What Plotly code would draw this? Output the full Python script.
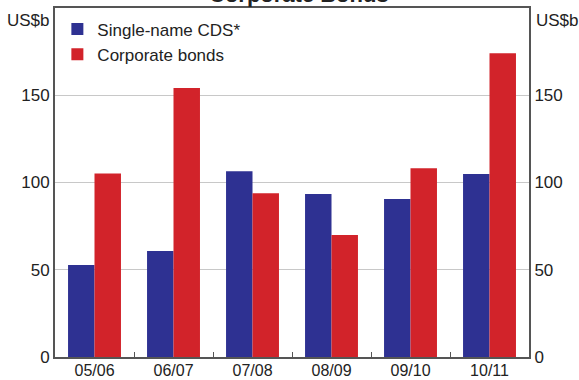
import plotly.graph_objects as go

# Financial years
years = ["05/06", "06/07", "07/08", "08/09", "09/10", "10/11"]

# Issuance, US$ billion
cds_values = [52.7, 60.7, 106.5, 93.4, 90.5, 104.8]
bond_values = [105.2, 154.1, 93.9, 69.9, 108.2, 174.1]

y_ticks = [0, 50, 100, 150]

BLUE = "#2E3192"
RED = "#D2232A"
AXIS = "#555555"
FONT = "Liberation Sans, Arial, sans-serif"

fig = go.Figure()
fig.add_trace(go.Bar(x=years, y=cds_values, name="Single-name CDS*",
                     marker=dict(color=BLUE, line=dict(width=0))))
fig.add_trace(go.Bar(x=years, y=bond_values, name="Corporate bonds",
                     marker=dict(color=RED, line=dict(width=0))))

fig.update_layout(
    width=579, height=380,
    margin=dict(l=55, r=50, t=8, b=23, autoexpand=False),
    paper_bgcolor="white", plot_bgcolor="white",
    font=dict(family=FONT, size=17, color="#222222"),
    barmode="group", bargap=0.33, bargroupgap=0,
    showlegend=True,
    legend=dict(x=0.005, y=0.99, xanchor="left", yanchor="top",
                bgcolor="rgba(0,0,0,0)", font=dict(size=17),
                itemwidth=30, tracegroupgap=0),
    xaxis=dict(
        type="category", showline=True, linecolor=AXIS, linewidth=2,
        mirror=True, ticks="inside", tickson="boundaries", ticklen=5,
        tickcolor=AXIS, showgrid=False, tickfont=dict(size=16),
        ticklabelstandoff=-2, automargin=False,
    ),
    yaxis=dict(
        range=[0, 200], tickvals=y_ticks, showline=True, linecolor=AXIS,
        linewidth=2, showgrid=True, gridcolor="#C8C8C8", gridwidth=1,
        ticks="", zeroline=False, tickfont=dict(size=17), automargin=False,
    ),
    yaxis2=dict(
        range=[0, 200], tickvals=y_ticks, overlaying="y", side="right",
        anchor="x", showline=True, linecolor=AXIS, linewidth=2,
        showgrid=False, ticks="", zeroline=False, tickfont=dict(size=17),
        automargin=False,
    ),
    annotations=[
        dict(text="<b>Corporate Bonds</b>", xref="paper", yref="paper",
             x=0.515, y=1, xanchor="center", yanchor="bottom", yshift=-1,
             showarrow=False, font=dict(size=22, color="#222222")),
        dict(text="US$b", xref="paper", yref="paper", x=0, y=1,
             xanchor="right", yanchor="middle", xshift=-3, yshift=-12,
             showarrow=False, font=dict(size=17)),
        dict(text="US$b", xref="paper", yref="paper", x=1, y=1,
             xanchor="left", yanchor="middle", xshift=5, yshift=-12,
             showarrow=False, font=dict(size=17)),
    ],
)

# Invisible trace so the right-hand axis is drawn with the same scale
fig.add_trace(go.Scatter(x=years, y=cds_values, yaxis="y2", mode="markers",
                         marker=dict(opacity=0), showlegend=False,
                         hoverinfo="skip"))

fig.write_html("out.html")
